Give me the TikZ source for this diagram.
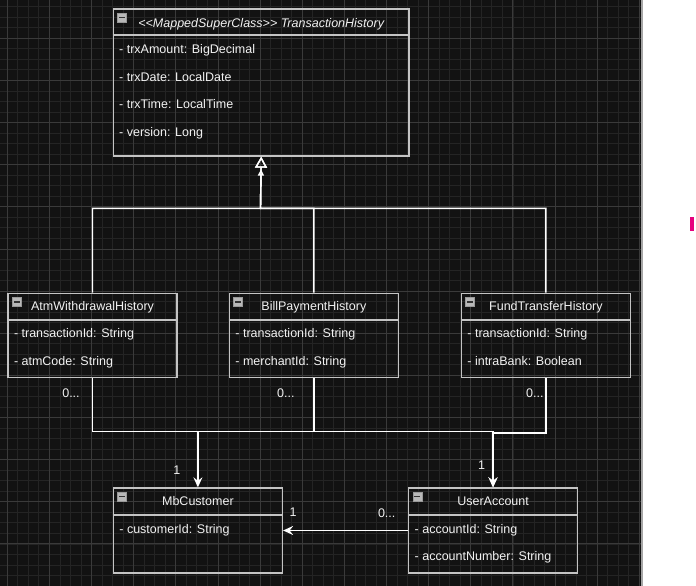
\documentclass[tikz,border=0pt]{standalone}
\usepackage{fontspec}
\setmainfont{Liberation Sans}
\usetikzlibrary{arrows.meta, positioning}

\definecolor{canvas}{HTML}{121212}
\definecolor{gridminor}{HTML}{242424}
\definecolor{gridmajor}{HTML}{3A3A3A}
\definecolor{boxline}{HTML}{C4C4C4}
\definecolor{inktext}{HTML}{F2F2F2}
\definecolor{iconfill}{HTML}{B8B8B8}
\definecolor{pinkmark}{HTML}{E6007E}

\begin{document}
\begin{tikzpicture}[
    x=1pt, y=-1pt,
    font=\fontsize{12.5}{15}\selectfont,
    umlclass/.style={rectangle, draw=boxline, line width=1.4pt, anchor=north west, minimum width=169pt, minimum height=84pt, inner sep=0pt},
    headtext/.style={text=inktext, inner sep=0pt, text height=9pt, text depth=2.5pt},
    attr/.style={text=inktext, anchor=west, inner sep=0pt, text height=9pt, text depth=2.5pt},
    mult/.style={text=inktext, inner sep=0pt},
    icon/.style={rectangle, draw=gray!80, fill=iconfill, anchor=north west, minimum size=9pt, inner sep=0pt,
      path picture={\fill[black!80] ([xshift=1.5pt,yshift=-0.8pt]path picture bounding box.west) rectangle ([xshift=-1.5pt,yshift=0.8pt]path picture bounding box.east);}},
    headrule/.style={draw=boxline, line width=1.4pt},
    inherit/.style={draw=white, line width=1.4pt, -{Triangle[open, length=11pt, width=12pt]}},
    assoc/.style={draw=white, line width=1.4pt, -{Stealth[length=10pt, width=9pt, inset=3.5pt]}},
]
    \useasboundingbox (0,0) rectangle (696,586);

    % canvas and grid
    \fill[canvas] (0,0) rectangle (642,586);
    \foreach \i in {0,...,61}
        \draw[gridminor, line width=0.9pt] ({-3.235+\i*10.535},0) -- ++(0,586);
    \foreach \i in {0,...,56}
        \draw[gridminor, line width=0.9pt] (0,{-3.84+\i*10.535}) -- ++(642,0);
    \foreach \i in {0,...,15}
        \draw[gridmajor, line width=1pt] ({7.3+\i*42.14},0) -- ++(0,586);
    \foreach \i in {0,...,14}
        \draw[gridmajor, line width=1pt] (0,{-3.84+\i*42.14}) -- ++(642,0);
    \fill[white] (642,0) rectangle (696,586);
    \draw[gray!70, line width=1.2pt] (642,0) -- (642,586);
    \fill[pinkmark] (690,216.7) rectangle (694.3,231);

    % super class
    \node (th) [umlclass, minimum width=295.6pt, minimum height=147pt] at (112.7,8.3) {};
    \node (th_icon) [icon] at ([xshift=4.6pt, yshift=-4.4pt]th.north west) {};
    \node (th_name) [headtext] at ([yshift=-15.5pt]th.north) {\itshape <{}<MappedSuperClass>{}> TransactionHistory};
    \draw [headrule] ([yshift=-26.7pt]th.north west) -- ([yshift=-26.7pt]th.north east);
    \node (th_amount) [attr] at ([xshift=6.3pt, yshift=-42pt]th.north west) {- trxAmount: BigDecimal};
    \node (th_date) [attr] at ([xshift=6.3pt, yshift=-69.5pt]th.north west) {- trxDate: LocalDate};
    \node (th_time) [attr] at ([xshift=6.3pt, yshift=-97pt]th.north west) {- trxTime: LocalTime};
    \node (th_version) [attr] at ([xshift=6.3pt, yshift=-124.5pt]th.north west) {- version: Long};

    % sub classes
    \node (atm) [umlclass] at (7.3,292.7) {};
    \node (atm_icon) [icon] at ([xshift=4.6pt, yshift=-4.4pt]atm.north west) {};
    \node (atm_name) [headtext] at ([yshift=-15pt]atm.north) {AtmWithdrawalHistory};
    \draw [headrule] ([yshift=-27.3pt]atm.north west) -- ([yshift=-27.3pt]atm.north east);
    \node (atm_txid) [attr] at ([xshift=6.5pt, yshift=-41.5pt]atm.north west) {- transactionId: String};
    \node (atm_code) [attr] at ([xshift=6.5pt, yshift=-69.5pt]atm.north west) {- atmCode: String};

    \node (bill) [umlclass] at (228.7,292.7) {};
    \node (bill_icon) [icon] at ([xshift=4.6pt, yshift=-4.4pt]bill.north west) {};
    \node (bill_name) [headtext] at ([yshift=-15pt]bill.north) {BillPaymentHistory};
    \draw [headrule] ([yshift=-27.3pt]bill.north west) -- ([yshift=-27.3pt]bill.north east);
    \node (bill_txid) [attr] at ([xshift=6.5pt, yshift=-41.5pt]bill.north west) {- transactionId: String};
    \node (bill_merchant) [attr] at ([xshift=6.5pt, yshift=-69.5pt]bill.north west) {- merchantId: String};

    \node (fund) [umlclass] at (460.7,292.7) {};
    \node (fund_icon) [icon] at ([xshift=4.6pt, yshift=-4.4pt]fund.north west) {};
    \node (fund_name) [headtext] at ([yshift=-15pt]fund.north) {FundTransferHistory};
    \draw [headrule] ([yshift=-27.3pt]fund.north west) -- ([yshift=-27.3pt]fund.north east);
    \node (fund_txid) [attr] at ([xshift=6.5pt, yshift=-41.5pt]fund.north west) {- transactionId: String};
    \node (fund_intra) [attr] at ([xshift=6.5pt, yshift=-69.5pt]fund.north west) {- intraBank: Boolean};

    % referenced classes
    \node (mbc) [umlclass, minimum height=85pt] at (112.7,487.3) {};
    \node (mbc_icon) [icon] at ([xshift=4.6pt, yshift=-4.4pt]mbc.north west) {};
    \node (mbc_name) [headtext] at ([yshift=-14.7pt]mbc.north) {MbCustomer};
    \draw [headrule] ([yshift=-27.7pt]mbc.north west) -- ([yshift=-27.7pt]mbc.north east);
    \node (mbc_custid) [attr] at ([xshift=6.5pt, yshift=-42.5pt]mbc.north west) {- customerId: String};

    \node (ua) [umlclass, minimum width=168.7pt, minimum height=85pt] at (408,487.3) {};
    \node (ua_icon) [icon] at ([xshift=4.6pt, yshift=-4.4pt]ua.north west) {};
    \node (ua_name) [headtext] at ([yshift=-14.7pt]ua.north) {UserAccount};
    \draw [headrule] ([yshift=-27.7pt]ua.north west) -- ([yshift=-27.7pt]ua.north east);
    \node (ua_accid) [attr] at ([xshift=6.5pt, yshift=-42.5pt]ua.north west) {- accountId: String};
    \node (ua_accno) [attr] at ([xshift=6.5pt, yshift=-70pt]ua.north west) {- accountNumber: String};

    % generalization
    \coordinate (gen_join) at (260.5,208.3);
    \draw [inherit] (atm.north) |- (gen_join) -- (th.south);
    \draw [inherit] (fund.north) |- (gen_join) -- (th.south);
    \draw [inherit, -{Triangle[open, length=6.5pt, width=6pt]}, shorten >=12.5pt] (bill.north) |- (gen_join) -- (th.south);

    % associations
    \draw [assoc] (atm.south) -- ++(0,53.3) -| (ua.north);
    \draw [assoc] (bill.south) -- ++(0,53.3) -| (mbc.north);
    \draw [assoc] (fund.south) -- ++(0,55) -| (ua.north);
    \draw [assoc] (ua.west) -- (mbc.east);

    \node (atm_many) [mult] at ([xshift=-21.5pt, yshift=-15pt]atm.south) {0...};
    \node (bill_many) [mult] at ([xshift=-28pt, yshift=-15pt]bill.south) {0...};
    \node (fund_many) [mult] at ([xshift=-11pt, yshift=-15pt]fund.south) {0...};
    \node (mbc_one) [mult] at ([xshift=-21pt, yshift=17pt]mbc.north) {1};
    \node (ua_one) [mult] at ([xshift=-11.4pt, yshift=22pt]ua.north) {1};
    \node (mbc_one_side) [mult] at ([xshift=10pt, yshift=18pt]mbc.east) {1};
    \node (ua_many) [mult] at ([xshift=-21.3pt, yshift=17pt]ua.west) {0...};

\end{tikzpicture}
\end{document}
